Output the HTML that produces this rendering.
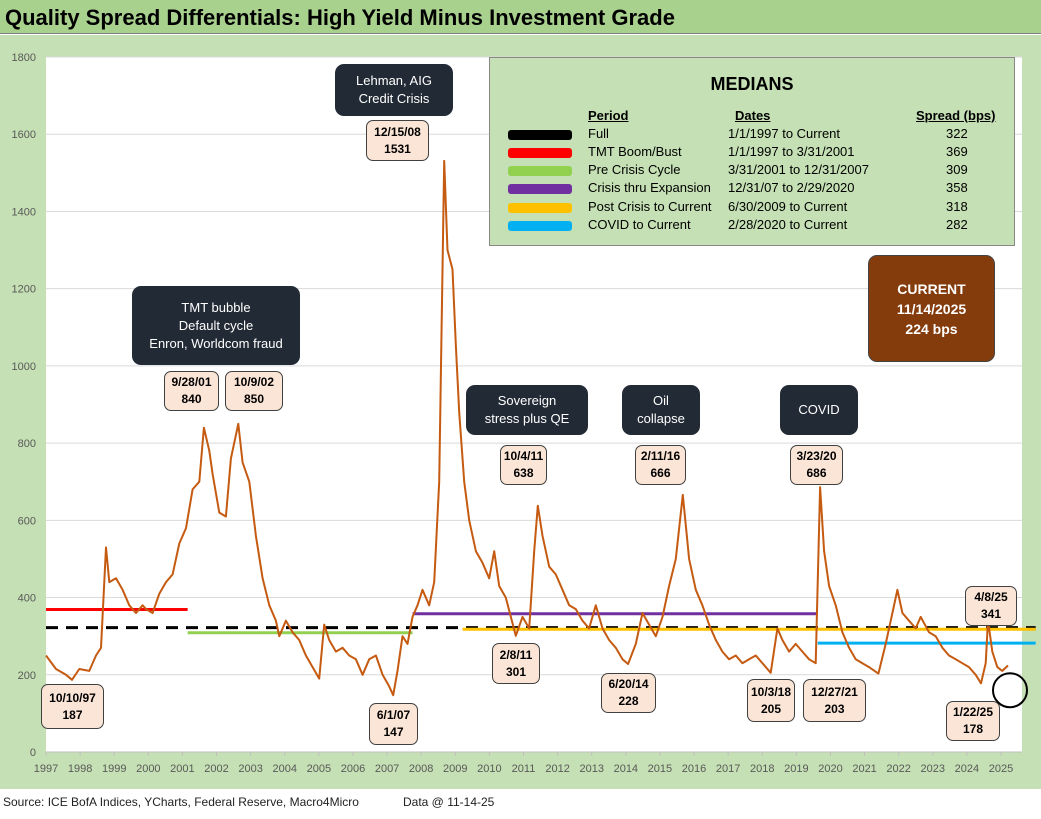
<!DOCTYPE html>
<html><head><meta charset="utf-8">
<style>
body{margin:0;width:1041px;height:819px;background:#fff;font-family:"Liberation Sans",sans-serif;overflow:hidden;position:relative}
.title{position:absolute;left:0;top:0;width:1041px;height:34px;background:#a9d18e;border-bottom:1px solid #7f7f7f;font-weight:bold;font-size:22px;line-height:36px;padding-left:5px;box-sizing:border-box}
.chartbg{position:absolute;left:0;top:35px;width:1041px;height:754px;background:#c5e0b4}
.foot{position:absolute;top:795px;font-size:12px;color:#222}
.lab{position:absolute;background:#fbe5d6;border:1px solid #404040;border-radius:7px;font-weight:bold;font-size:12px;text-align:center;display:flex;flex-direction:column;justify-content:center;line-height:17px;box-sizing:border-box}
.dark{position:absolute;background:#222a35;border-radius:9px;color:#fff;font-size:13px;text-align:center;display:flex;flex-direction:column;justify-content:center;line-height:18px;box-sizing:border-box}
.med{position:absolute;left:489px;top:57px;width:526px;height:189px;background:#c5e0b4;border:1px solid #888;box-sizing:border-box;font-size:13px}
.med .h{position:absolute;left:0;width:100%;top:16px;text-align:center;font-weight:bold;font-size:18px}
.row{position:absolute;left:0;width:100%;height:18px}
.row span{position:absolute}
.sw{position:absolute;left:18px;width:64px;height:10px;top:4px;border-radius:3px}
</style></head><body>
<div class="title">Quality Spread Differentials: High Yield Minus Investment Grade</div>
<div class="chartbg"></div>
<svg id="chart" width="1041" height="819" style="position:absolute;left:0;top:0"></svg>

<div class="med">
<div class="h">MEDIANS</div>
<div class="row" style="top:50px;font-weight:bold"><span style="left:98px;text-decoration:underline">Period</span><span style="left:245px;text-decoration:underline">Dates</span><span style="left:426px;text-decoration:underline">Spread (bps)</span></div>
<div class="row" style="top:68px"><div class="sw" style="background:#000"></div><span style="left:98px">Full</span><span style="left:238px">1/1/1997 to Current</span><span style="left:456px">322</span></div>
<div class="row" style="top:86px"><div class="sw" style="background:#f00"></div><span style="left:98px">TMT Boom/Bust</span><span style="left:238px">1/1/1997 to 3/31/2001</span><span style="left:456px">369</span></div>
<div class="row" style="top:104px"><div class="sw" style="background:#92d050"></div><span style="left:98px">Pre Crisis Cycle</span><span style="left:238px">3/31/2001 to 12/31/2007</span><span style="left:456px">309</span></div>
<div class="row" style="top:122px"><div class="sw" style="background:#7030a0"></div><span style="left:98px">Crisis thru Expansion</span><span style="left:238px">12/31/07 to 2/29/2020</span><span style="left:456px">358</span></div>
<div class="row" style="top:141px"><div class="sw" style="background:#ffc000"></div><span style="left:98px">Post Crisis to Current</span><span style="left:238px">6/30/2009 to Current</span><span style="left:456px">318</span></div>
<div class="row" style="top:159px"><div class="sw" style="background:#00b0f0"></div><span style="left:98px">COVID to Current</span><span style="left:238px">2/28/2020 to Current</span><span style="left:456px">282</span></div>
</div>

<div class="dark" style="left:868px;top:255px;width:127px;height:107px;background:#843c0c;border:1px solid #444;font-weight:bold;font-size:14px;line-height:20px">CURRENT<br>11/14/2025<br>224 bps</div>
<div class="dark" style="left:132px;top:286px;width:168px;height:79px">TMT bubble<br>Default cycle<br>Enron, Worldcom fraud</div>
<div class="dark" style="left:335px;top:64px;width:118px;height:52px">Lehman, AIG<br>Credit Crisis</div>
<div class="dark" style="left:466px;top:385px;width:122px;height:50px">Sovereign<br>stress plus QE</div>
<div class="dark" style="left:622px;top:385px;width:78px;height:50px">Oil<br>collapse</div>
<div class="dark" style="left:780px;top:385px;width:78px;height:50px">COVID</div>

<div class="lab" style="left:41px;top:684px;width:63px;height:45px">10/10/97<br>187</div>
<div class="lab" style="left:164px;top:371px;width:55px;height:40px">9/28/01<br>840</div>
<div class="lab" style="left:225px;top:371px;width:58px;height:40px">10/9/02<br>850</div>
<div class="lab" style="left:366px;top:120px;width:63px;height:41px">12/15/08<br>1531</div>
<div class="lab" style="left:369px;top:703px;width:49px;height:42px">6/1/07<br>147</div>
<div class="lab" style="left:500px;top:445px;width:47px;height:40px">10/4/11<br>638</div>
<div class="lab" style="left:492px;top:643px;width:48px;height:41px">2/8/11<br>301</div>
<div class="lab" style="left:635px;top:445px;width:51px;height:40px">2/11/16<br>666</div>
<div class="lab" style="left:601px;top:673px;width:55px;height:40px">6/20/14<br>228</div>
<div class="lab" style="left:790px;top:445px;width:53px;height:40px">3/23/20<br>686</div>
<div class="lab" style="left:747px;top:679px;width:48px;height:43px">10/3/18<br>205</div>
<div class="lab" style="left:803px;top:679px;width:63px;height:43px">12/27/21<br>203</div>
<div class="lab" style="left:965px;top:586px;width:52px;height:40px">4/8/25<br>341</div>
<div class="lab" style="left:946px;top:701px;width:54px;height:40px">1/22/25<br>178</div>

<div class="foot" style="left:3px">Source: ICE BofA Indices, YCharts, Federal Reserve, Macro4Micro</div>
<div class="foot" style="left:403px">Data @ 11-14-25</div>

<script>
const dates=[1997.0,1997.3,1997.6,1997.78,1998.0,1998.3,1998.5,1998.65,1998.8,1998.9,1999.1,1999.3,1999.5,1999.7,1999.9,2000.0,2000.2,2000.4,2000.6,2000.8,2001.0,2001.2,2001.4,2001.6,2001.74,2001.9,2002.0,2002.2,2002.4,2002.55,2002.77,2002.9,2003.1,2003.3,2003.5,2003.7,2003.9,2004.0,2004.2,2004.4,2004.6,2004.8,2005.0,2005.2,2005.35,2005.5,2005.7,2005.9,2006.1,2006.3,2006.5,2006.7,2006.9,2007.1,2007.3,2007.42,2007.55,2007.7,2007.85,2008.0,2008.15,2008.3,2008.5,2008.65,2008.8,2008.95,2009.05,2009.2,2009.3,2009.4,2009.55,2009.7,2009.9,2010.1,2010.3,2010.45,2010.6,2010.8,2011.1,2011.3,2011.5,2011.65,2011.76,2011.9,2012.1,2012.3,2012.5,2012.7,2012.9,2013.1,2013.3,2013.5,2013.7,2013.9,2014.1,2014.3,2014.47,2014.7,2014.9,2015.1,2015.3,2015.5,2015.7,2015.9,2016.11,2016.3,2016.5,2016.7,2016.9,2017.1,2017.3,2017.5,2017.7,2017.9,2018.1,2018.3,2018.5,2018.75,2018.95,2019.1,2019.3,2019.5,2019.7,2019.9,2020.1,2020.23,2020.35,2020.5,2020.7,2020.9,2021.1,2021.3,2021.5,2021.7,2021.98,2022.2,2022.4,2022.55,2022.7,2022.9,2023.1,2023.25,2023.5,2023.7,2023.9,2024.1,2024.3,2024.5,2024.7,2024.9,2025.06,2025.2,2025.27,2025.4,2025.55,2025.7,2025.87];
const spreads=[250,215,200,187,215,210,250,270,530,440,450,420,380,360,380,370,360,410,440,460,540,580,680,700,840,780,720,620,610,760,850,750,700,560,450,380,340,300,340,310,290,250,220,190,330,290,260,270,250,240,200,240,250,200,170,147,210,300,280,350,380,420,380,440,700,1531,1300,1250,1050,880,700,600,520,490,450,520,430,400,301,350,320,520,638,560,480,460,420,380,370,340,320,380,320,290,270,240,228,280,360,330,300,350,430,500,666,500,420,380,330,290,260,240,250,230,240,250,230,205,320,290,260,280,260,240,230,686,520,430,380,310,270,240,230,220,203,280,360,420,360,340,320,350,310,300,270,250,240,230,220,200,178,230,341,260,220,210,224];
const yTicks=[0,200,400,600,800,1000,1200,1400,1600,1800];
const xYears=[1997,1998,1999,2000,2001,2002,2003,2004,2005,2006,2007,2008,2009,2010,2011,2012,2013,2014,2015,2016,2017,2018,2019,2020,2021,2022,2023,2024,2025];
const medNames=["full","tmt","precrisis","crisis","postcrisis","covid"];
const medValues=[322,369,309,358,318,282];
const medStart=[1997.0,1997.0,2001.25,2008.0,2009.5,2020.16];
const medEnd=[2026.7,2001.25,2008.0,2020.16,2026.7,2026.7];
const medColors=["#000","#ff0000","#92d050","#7030a0","#ffc000","#00b0f0"];

const NS="http://www.w3.org/2000/svg";
const svg=document.getElementById('chart');
const L=46,R=1022,T=57,B=752;
const xS=y=>46+(y-1997)*(1008-46)/28.87;
const xLab=i=>46+i*(1001-46)/28;
const yS=v=>B-v*(B-T)/1800;
function mk(tag,at){const e=document.createElementNS(NS,tag);for(const k in at)e.setAttribute(k,at[k]);svg.appendChild(e);return e;}
const bg=mk('rect',{x:L,y:T,width:R-L,height:B-T,fill:'#fff'});


yTicks.forEach(v=>{
 const g=mk('line',{x1:L,x2:R,y1:yS(v),y2:yS(v),stroke:'#d9d9d9','stroke-width':1});
 
 
 const t=mk('text',{x:36,y:yS(v)+4,'text-anchor':'end','font-size':11,fill:'#595959','font-family':'Liberation Sans, sans-serif'});
 t.textContent=v;
 
 
});
mk('line',{x1:L,x2:R,y1:B,y2:B,stroke:'#bfbfbf'});
xYears.forEach((y,i)=>{
 mk('line',{x1:xLab(i),x2:xLab(i),y1:B,y2:B+4,stroke:'#bfbfbf'});
 const t=mk('text',{x:xLab(i),y:772,'text-anchor':'middle','font-size':11,fill:'#595959','font-family':'Liberation Sans, sans-serif'});
 t.textContent=y;
 
 
});
medValues.forEach((v,i)=>{
 const at={x1:xS(medStart[i]),x2:xS(medEnd[i]),y1:yS(v),y2:yS(v),stroke:medColors[i],'stroke-width':3};
 if(i==0)at['stroke-dasharray']='12,8';
 const l=mk('line',at);
 
 
});
const pts=dates.map((d,i)=>xS(d).toFixed(1)+','+yS(spreads[i]).toFixed(1)).join(' ');
const pl=mk('polyline',{points:pts,fill:'none',stroke:'#c55a11','stroke-width':2,'stroke-linejoin':'round'});


const c=mk('circle',{cx:xS(2025.87)+2,cy:yS(160),r:17,fill:'none',stroke:'#000','stroke-width':2});


</script>
</body></html>
